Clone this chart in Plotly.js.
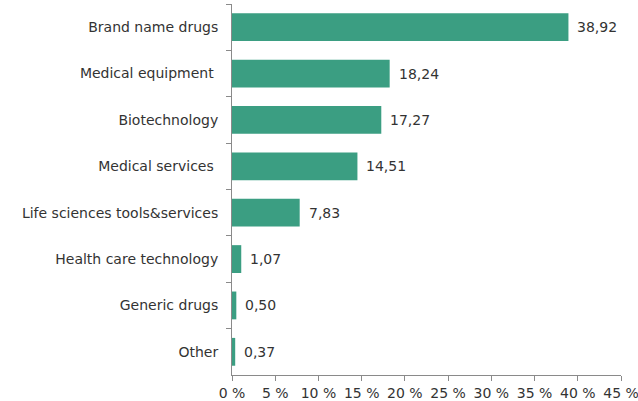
<!DOCTYPE html>
<html><head><meta charset="utf-8">
<script src="https://cdn.plot.ly/plotly-3.0.1.min.js"></script>
<style>body{margin:0;padding:0;background:#fff}#c{width:638px;height:401px}</style>
</head><body><div id="c"></div>
<script>
const categories = ["Brand name drugs","Medical equipment ","Biotechnology","Medical services ","Life sciences tools&services","Health care technology","Generic drugs","Other"];
const values = [38.92,18.24,17.27,14.51,7.83,1.07,0.50,0.37];
const xTicks = [0,5,10,15,20,25,30,35,40,45];

const FONT = 'DejaVu Sans, sans-serif';
const annotations = values.map((v,i)=>({
  x: v, y: categories[i], xref:'x', yref:'y',
  text: v.toFixed(2).replace('.',','), showarrow:false,
  xanchor:'left', yanchor:'middle', xshift:7,
  font:{family:FONT, size:14, color:'#333'}
}));

Plotly.newPlot('c',[{
  type:'bar', orientation:'h',
  y: categories, x: values,
  marker:{color:'#3b9e82'},
  hoverinfo:'none'
}],{
  width:638, height:401,
  margin:{l:232,r:17,t:4,b:26},
  separators:',.',
  bargap:0.4,
  showlegend:false,
  annotations: annotations,
  paper_bgcolor:'#fff', plot_bgcolor:'#fff',
  font:{family:FONT, size:14, color:'#333'},
  xaxis:{range:[0,45.0001], tickvals:xTicks, ticktext:xTicks.map(v=>v+' %'),
    ticklabeloverflow:'allow',
    showgrid:false, zeroline:false, showline:true, linecolor:'#8a8a8a', linewidth:1,
    ticks:'outside', ticklen:5, tickcolor:'#8a8a8a', fixedrange:true},
  yaxis:{type:'category', autorange:'reversed', showgrid:false, zeroline:false,
    showline:true, linecolor:'#8a8a8a', linewidth:1,
    ticks:'outside', ticklen:5, tickcolor:'#8a8a8a', tickson:'boundaries', ticklabelstandoff:10, fixedrange:true}
},{displayModeBar:false, staticPlot:true});
</script></body></html>
